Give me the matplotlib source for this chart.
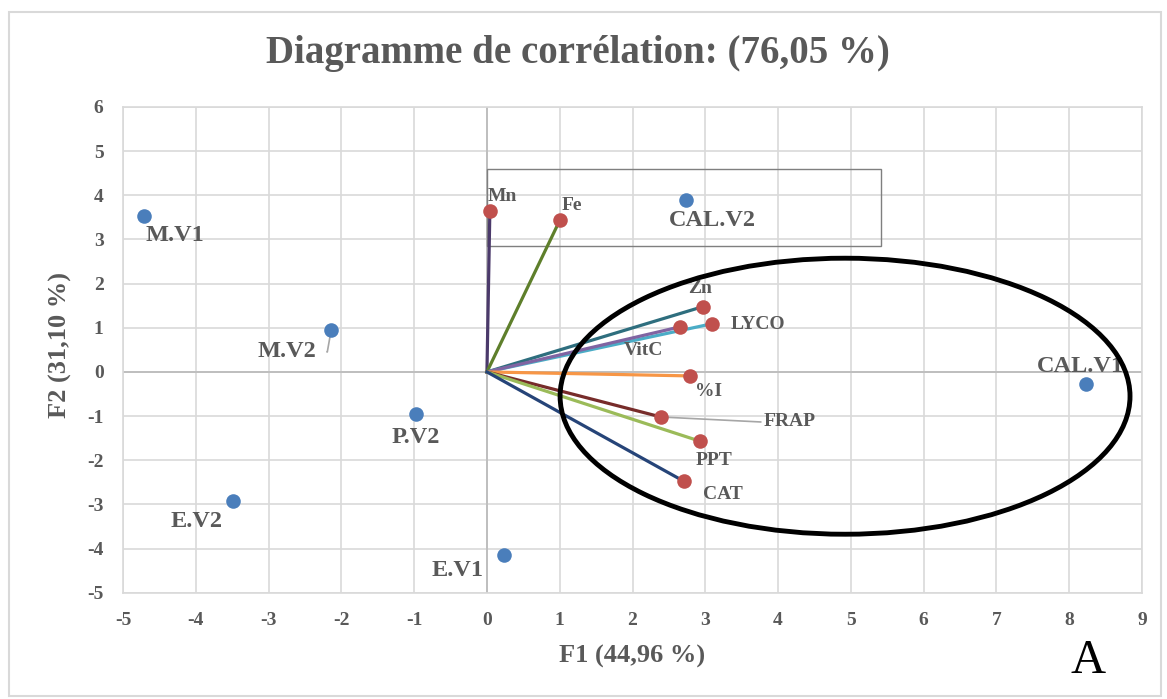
import numpy as np
import matplotlib
matplotlib.use("Agg")
import matplotlib.pyplot as plt
from matplotlib.patches import Ellipse, Rectangle

plt.rcParams['font.family'] = ['Liberation Serif', 'DejaVu Serif']
plt.rcParams['axes.unicode_minus'] = False

# observations (individus)
obs_names = ['M.V1', 'M.V2', 'P.V2', 'E.V2', 'E.V1', 'CAL.V2', 'CAL.V1']
obs_x = [-4.71, -2.14, -0.98, -3.49, 0.23, 2.73, 8.23]
obs_y = [3.52, 0.95, -0.95, -2.93, -4.14, 3.89, -0.27]

# variables
var_names = ['Mn', 'Fe', 'Zn', 'LYCO', 'VitC', '%I', 'FRAP', 'PPT', 'CAT']
var_x = [0.04, 1.00, 2.97, 3.09, 2.65, 2.79, 2.39, 2.93, 2.71]
var_y = [3.64, 3.43, 1.48, 1.09, 1.02, -0.09, -1.02, -1.57, -2.48]
var_colors = ['#4B3A6B', '#5E7F2B', '#2E6E7E', '#4BACC6', '#8064A2',
              '#F79646', '#772C2A', '#9BBB59', '#264478']

x_ticks = list(range(-5, 10))
y_ticks = list(range(-5, 7))

grey = '#595959'

fig = plt.figure(figsize=(11.67, 6.99), dpi=100)
ax = fig.add_axes([0.1054, 0.152, 0.8732, 0.695])

# cadre du graphique
fig.patches.append(Rectangle((0.008, 0.004), 0.987, 0.979, transform=fig.transFigure,
                             fill=False, edgecolor='#D9D9D9', lw=1.5))

ax.set_xlim(-5, 9)
ax.set_ylim(-5, 6)
ax.set_xticks(x_ticks)
ax.set_yticks(y_ticks)
ax.grid(True, color='#D9D9D9', lw=1.2)
ax.set_axisbelow(True)
for s in ax.spines.values():
    s.set_color('#D9D9D9')
    s.set_linewidth(1.2)
ax.tick_params(length=0, labelsize=14, labelcolor=grey, pad=14)
for lab in ax.get_xticklabels() + ax.get_yticklabels():
    lab.set_fontweight('bold')
ax.axhline(0, color='#BFBFBF', lw=1.4, zorder=1)
ax.axvline(0, color='#BFBFBF', lw=1.4, zorder=1)

# vecteurs des variables
for x, y, c in zip(var_x, var_y, var_colors):
    ax.plot([0, x], [0, y], color=c, lw=2.3, zorder=3)
ax.scatter(var_x, var_y, s=110, color='#C0504D', zorder=4, linewidths=0)

# individus
ax.scatter(obs_x, obs_y, s=110, color='#4A7EBB', zorder=4, linewidths=0)

obs_off = {'M.V1': (31, -19), 'M.V2': (-44, -22), 'P.V2': (0, -24), 'E.V2': (-36, -20),
           'E.V1': (-46, -16), 'CAL.V2': (27, -20), 'CAL.V1': (-6, 17)}
for n, x, y in zip(obs_names, obs_x, obs_y):
    dx, dy = obs_off[n]
    ax.annotate(n, (x, y), xytext=(dx, dy), textcoords='offset pixels',
                ha='center', va='center', fontsize=17.5, fontweight='bold', color=grey, zorder=5)
# trait de rappel M.V2
ax.annotate('', (obs_x[1], obs_y[1]), xytext=(-7, -22), textcoords='offset pixels',
            arrowprops=dict(arrowstyle='-', color='#A6A6A6', lw=1.2,
                            connectionstyle='angle,angleA=0,angleB=80'))

var_off = {'Mn': (12, 15), 'Fe': (12, 15), 'Zn': (-3, 18), 'LYCO': (46, -1),
           'VitC': (-36, -24), '%I': (18, -16), 'FRAP': (129, -5), 'PPT': (14, -19),
           'CAT': (39, -13)}
for n, x, y in zip(var_names, var_x, var_y):
    dx, dy = var_off[n]
    ax.annotate(n, (x, y), xytext=(dx, dy), textcoords='offset pixels',
                ha='center', va='center', fontsize=14, fontweight='bold', color=grey, zorder=5)
# trait de rappel FRAP
ax.annotate('', (var_x[6], var_y[6]), xytext=(100, -5), textcoords='offset pixels',
            arrowprops=dict(arrowstyle='-', color='#A6A6A6', lw=1.2, shrinkA=0, shrinkB=0))

# ellipse et rectangle
ax.add_patch(Ellipse((4.92, -0.55), 7.83, 6.25, fill=False, edgecolor='black', lw=3.5, zorder=6))
ax.add_patch(Rectangle((0.0, 2.86), 5.41, 1.73, fill=False, edgecolor='#7F7F7F', lw=1.0, zorder=2))

fig.text(0.495, 0.924, 'Diagramme de corrélation: (76,05 %)', fontsize=28, fontweight='bold',
         color=grey, ha='center', va='center')
fig.text(0.5416, 0.061, 'F1 (44,96 %)', fontsize=19, fontweight='bold', color=grey,
         ha='center', va='center')
fig.text(0.0514, 0.506, 'F2 (31,10 %)', fontsize=19, fontweight='bold', color=grey,
         ha='center', va='center', rotation=90)

fig.text(0.9323, 0.054, 'A', fontsize=35, color='black', ha='center', va='center')

fig.savefig('out.png', dpi=100)
